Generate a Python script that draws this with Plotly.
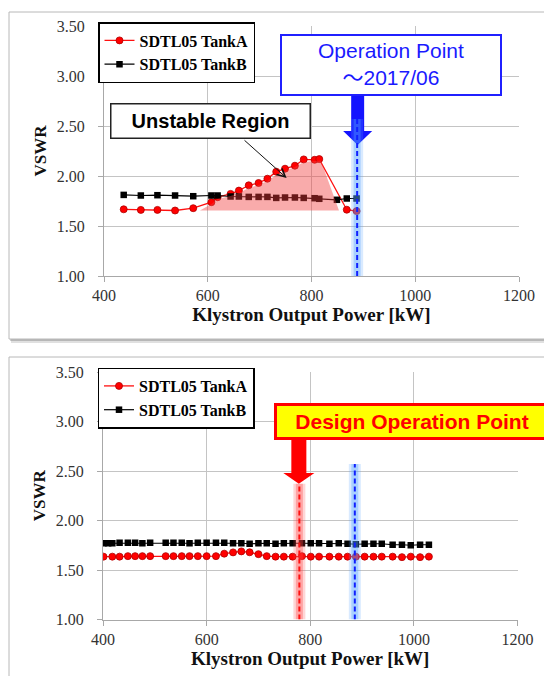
import plotly.graph_objects as go

W, H = 552, 676
OFF = 8  # the page body adds an 8px margin around the figure

# ---------------- data ----------------
# Top chart (operation up to 2017/06)
top_tankA_kw = [438, 471, 503, 537, 572, 607, 619, 644, 660, 679, 698, 715, 732, 749, 768, 785, 806, 815, 868, 887]
top_tankA_vswr = [1.667, 1.661, 1.661, 1.655, 1.678, 1.738, 1.788, 1.821, 1.854, 1.907, 1.930, 1.973, 2.043, 2.073,
                  2.103, 2.166, 2.162, 2.169, 1.663, 1.649]
top_tankB_kw = [438, 471, 503, 537, 572, 607, 619, 644, 660, 679, 698, 715, 732, 749, 768, 785, 806, 815, 849, 868, 887]
top_tankB_vswr = [1.811, 1.805, 1.808, 1.805, 1.798, 1.805, 1.805, 1.795, 1.795, 1.791, 1.791, 1.791, 1.781, 1.785,
                  1.785, 1.781, 1.778, 1.772, 1.762, 1.775, 1.775]
unstable_kw = [585, 607, 619, 644, 660, 679, 698, 715, 732, 749, 768, 785, 806, 818, 853]
unstable_vswr = [1.655, 1.72, 1.77, 1.80, 1.83, 1.88, 1.91, 1.95, 2.01, 2.05, 2.09, 2.14, 2.15, 2.155, 1.655]

# Bottom chart (design operation)
bot_tankA_kw = [401, 418, 432, 448, 462, 476, 491, 521, 536, 552, 567, 583, 600, 618, 634, 651, 667, 683, 700, 716,
                733, 749, 766, 784, 801, 817, 837, 855, 872, 888, 905, 922, 938, 959, 977, 994, 1012, 1029]
bot_tankA_vswr = [1.635, 1.635, 1.635, 1.64, 1.64, 1.64, 1.64, 1.64, 1.64, 1.64, 1.64, 1.64, 1.64, 1.64, 1.665,
                  1.678, 1.688, 1.679, 1.66, 1.64, 1.635, 1.635, 1.635, 1.64, 1.635, 1.635, 1.635, 1.635, 1.635,
                  1.635, 1.635, 1.635, 1.635, 1.635, 1.63, 1.635, 1.63, 1.635]
bot_tankB_kw = [401, 410, 418, 432, 448, 462, 476, 491, 521, 536, 552, 567, 583, 600, 618, 634, 651, 667, 683, 700,
                716, 733, 749, 766, 784, 801, 817, 837, 855, 872, 888, 905, 922, 938, 959, 977, 994, 1012, 1029]
bot_tankB_vswr = [1.77, 1.77, 1.77, 1.775, 1.775, 1.775, 1.77, 1.775, 1.775, 1.775, 1.775, 1.77, 1.775, 1.775,
                  1.775, 1.775, 1.77, 1.77, 1.765, 1.77, 1.77, 1.765, 1.77, 1.77, 1.77, 1.77, 1.77, 1.765, 1.77,
                  1.765, 1.76, 1.765, 1.765, 1.765, 1.755, 1.755, 1.75, 1.755, 1.755]

operation_point_kw = 888
design_point_kw = 779
x_ticks = [400, 600, 800, 1000, 1200]
y_ticks = [1.0, 1.5, 2.0, 2.5, 3.0, 3.5]
series_names = ["SDTL05 TankA", "SDTL05 TankB"]


def PX(px):
    return (px - OFF) / W


def PY(py):
    return 1 - (py - OFF) / H


SERIF = "Liberation Serif"
SANS = "Liberation Sans"

fig = go.Figure()


def add_series(xa, ya, xb, yb, xaxis, yaxis, legend):
    fig.add_trace(go.Scatter(x=xa, y=ya, name=series_names[0], mode="lines+markers",
                             line=dict(color="#ff1010", width=1.3),
                             marker=dict(symbol="circle", size=7, color="#ff0000",
                                         line=dict(color="#b00000", width=0.8)),
                             xaxis=xaxis, yaxis=yaxis, legend=legend))
    fig.add_trace(go.Scatter(x=xb, y=yb, name=series_names[1], mode="lines+markers",
                             line=dict(color="#000000", width=1.2),
                             marker=dict(symbol="square", size=6.5, color="#000000"),
                             xaxis=xaxis, yaxis=yaxis, legend=legend))


add_series(top_tankA_kw, top_tankA_vswr, top_tankB_kw, top_tankB_vswr, "x", "y", "legend")
fig.add_trace(go.Scatter(x=unstable_kw, y=unstable_vswr, fill="toself", mode="none",
                         fillcolor="rgba(240,60,60,0.43)", showlegend=False, hoverinfo="skip",
                         xaxis="x", yaxis="y"))
add_series(bot_tankA_kw, bot_tankA_vswr, bot_tankB_kw, bot_tankB_vswr, "x2", "y2", "legend2")

axis_common = dict(
    showgrid=True, gridcolor="#c4c4c4", gridwidth=1, zeroline=False, automargin=False,
    showline=True, linecolor="#a8a8a8", linewidth=1,
    ticks="outside", ticklen=5, tickcolor="#a8a8a8",
    tickfont=dict(family=SERIF, size=16, color="#333333"),
)
xcommon = dict(axis_common, range=[400, 1200], tickvals=x_ticks,
               title=dict(text="Klystron Output Power [kW]", standoff=3,
                          font=dict(family=SERIF, size=19, color="#111111", weight="bold")))
ycommon = dict(axis_common, range=[1.0, 3.5], tickvals=y_ticks, tickformat=".2f", ticklabelstandoff=10,
               title=dict(text="VSWR", standoff=5,
                          font=dict(family=SERIF, size=17, color="#111111", weight="bold")))

legend_common = dict(xanchor="left", yanchor="middle", bgcolor="white", bordercolor="black", borderwidth=1.5,
                     font=dict(family=SERIF, size=16, color="black", weight="bold"),
                     itemwidth=30, tracegroupgap=0, traceorder="normal")

fig.update_layout(
    width=W, height=H, margin=dict(l=0, r=0, t=0, b=0, autoexpand=False),
    paper_bgcolor="white", plot_bgcolor="rgba(0,0,0,0)",
    xaxis=dict(xcommon, domain=[PX(104), PX(519)], anchor="y"),
    yaxis=dict(ycommon, domain=[PY(276), PY(26)], anchor="x"),
    xaxis2=dict(xcommon, domain=[PX(103), PX(517.5)], anchor="y2"),
    yaxis2=dict(ycommon, domain=[PY(619.5), PY(372)], anchor="x2"),
    legend=dict(legend_common, x=PX(98), y=PY(52.5)),
    legend2=dict(legend_common, x=PX(97.5), y=PY(398)),
    showlegend=True,
)

shapes = []
# panel frames with shadow
for (x0, y0, x1, y1) in [(9, 12, 620, 339), (9, 357, 620, 720)]:
    shapes.append(dict(type="rect", xref="paper", yref="paper", layer="below",
                       x0=PX(x0 + 2), y0=PY(y1 + 4), x1=PX(x1 + 2), y1=PY(y0 + 3),
                       fillcolor="rgba(0,0,0,0.12)", line=dict(width=0)))
    shapes.append(dict(type="rect", xref="paper", yref="paper", layer="below",
                       x0=PX(x0 + 1), y0=PY(y1 + 2), x1=PX(x1 + 1), y1=PY(y0 + 1),
                       fillcolor="rgba(0,0,0,0.18)", line=dict(width=0)))
    shapes.append(dict(type="rect", xref="paper", yref="paper", layer="below",
                       x0=PX(x0), y0=PY(y1), x1=PX(x1), y1=PY(y0),
                       fillcolor="white", line=dict(color="#b8b8b8", width=1)))


def block_arrow(xref, yref, xc, half_shaft, half_head, y_top, y_head, y_tip, color):
    path = (f"M{xc - half_shaft},{y_top} L{xc + half_shaft},{y_top} L{xc + half_shaft},{y_head} "
            f"L{xc + half_head},{y_head} L{xc},{y_tip} L{xc - half_head},{y_head} "
            f"L{xc - half_shaft},{y_head} Z")
    return dict(type="path", xref=xref, yref=yref, path=path, fillcolor=color, line=dict(width=0))


def glow_line(xref, yref, xv, y0, y1, glow_rgb, dash_color):
    out = []
    out.append(dict(type="line", xref=xref, yref=yref, x0=xv, x1=xv, y0=y0, y1=y1,
                    line=dict(color=f"rgba({glow_rgb},0.22)", width=12)))
    out.append(dict(type="line", xref=xref, yref=yref, x0=xv, x1=xv, y0=y0, y1=y1,
                    line=dict(color=f"rgba({glow_rgb},0.35)", width=7)))
    out.append(dict(type="line", xref=xref, yref=yref, x0=xv, x1=xv, y0=y0, y1=y1,
                    line=dict(color=dash_color, width=2, dash="5px,3px")))
    return out


# top chart: blue arrow + operation line
shapes.append(block_arrow("x", "y", operation_point_kw + 1, 12.5, 28, 2.82, 2.45, 2.31, "#1414ff"))
shapes += glow_line("x", "y", operation_point_kw, 1.0, 2.57, "80,160,255", "#1020ff")
# bottom chart: red arrow + design line, blue operation line
shapes.append(block_arrow("x2", "y2", design_point_kw - 1, 14.5, 30, 2.83, 2.48, 2.37, "#ff0000"))
shapes += glow_line("x2", "y2", design_point_kw, 1.0, 2.37, "255,70,70", "#ff1010")
shapes += glow_line("x2", "y2", operation_point_kw - 2, 1.0, 2.57, "80,160,255", "#1020ff")

fig.update_layout(shapes=shapes)

tilde = '<span style="font-family:\'Noto Sans CJK JP\'">～</span>'
annotations = [
    # arrow pointing to unstable region
    dict(xref="x", yref="y", axref="x", ayref="y", x=752, y=1.98, ax=668, ay=2.37, text="",
         showarrow=True, arrowhead=5, arrowsize=1.6, arrowwidth=1, arrowcolor="#111111"),
    dict(xref="paper", yref="paper", x=PX(210.5), y=PY(121), xanchor="center", yanchor="middle",
         text="<b>Unstable Region</b>", showarrow=False,
         font=dict(family=SANS, size=20, color="black"),
         bgcolor="white", bordercolor="#222222", borderwidth=1.5, borderpad=0, width=198, height=33),
    dict(xref="paper", yref="paper", x=PX(390.5), y=PY(65), xanchor="center", yanchor="middle",
         text="Operation Point<br>" + tilde + "2017/06", showarrow=False,
         font=dict(family=SANS, size=21, color="#1a1aff"),
         bgcolor="white", bordercolor="#2020ff", borderwidth=2, borderpad=0, width=218, height=58),
    dict(xref="paper", yref="paper", x=PX(412), y=PY(421.5), xanchor="center", yanchor="middle",
         text="<b>Design Operation Point</b>", showarrow=False,
         font=dict(family=SANS, size=21, color="#ff0000"),
         bgcolor="#ffff00", bordercolor="#ff0000", borderwidth=3, borderpad=0, width=270, height=31),
]
fig.update_layout(annotations=annotations)

fig.write_html("out.html")
